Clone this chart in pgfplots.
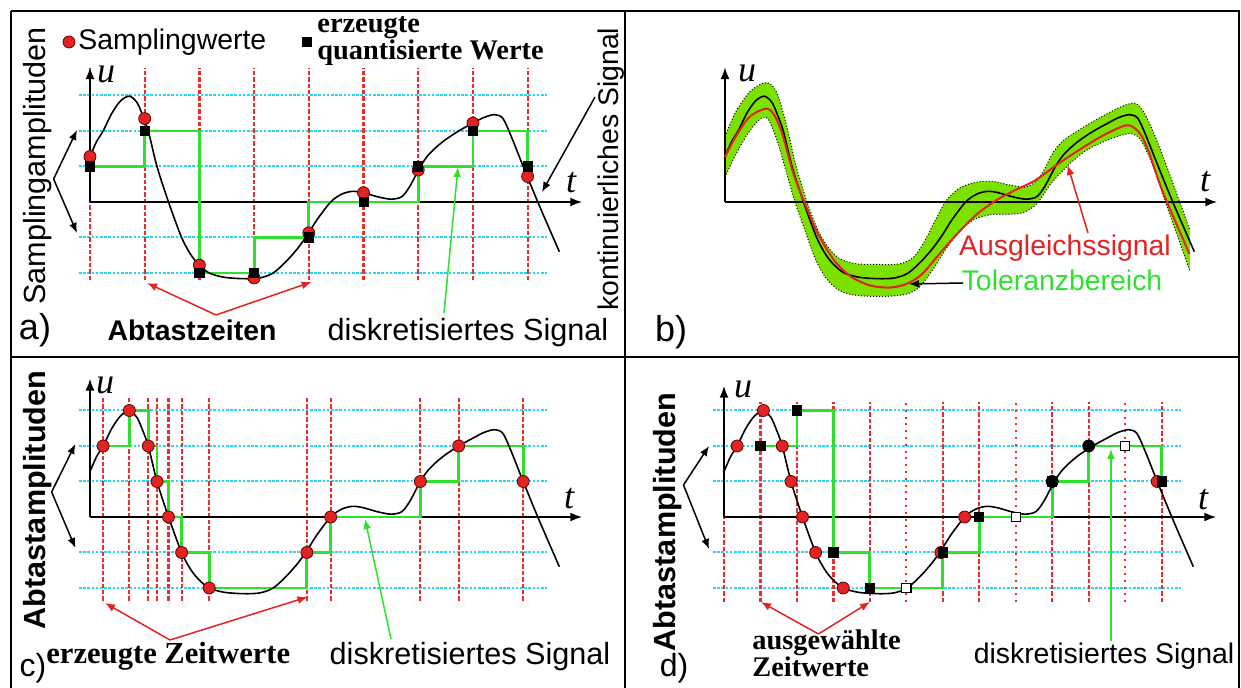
\documentclass[border=0pt]{standalone}
\usepackage{fontspec}
\setmainfont{Liberation Sans}
\newfontfamily\tnr{Liberation Serif}
\usepackage{pgfplots}
\usepackage{pgfplotstable}
\pgfplotsset{compat=1.18}
\usepgfplotslibrary{fillbetween}
\usetikzlibrary{arrows.meta}
\definecolor{cy}{RGB}{40,215,240}
\definecolor{rd}{RGB}{225,35,35}
\definecolor{rdl}{RGB}{235,45,45}
\definecolor{gr}{RGB}{45,225,45}
\definecolor{band}{RGB}{125,225,0}
\newcommand\fs{\fontsize{14.2}{15}\selectfont}
\newcommand\fl{\fontsize{15.3}{16}\selectfont}
\newcommand\fb{\fontsize{18}{19}\selectfont}
\newcommand\fu{\fontsize{18}{19}\selectfont\tnr\itshape}
\tikzset{
 ar/.style={line width=0.75pt,-{Latex[length=5pt,width=4pt]}},
 axarr/.style={line width=1pt,-{Latex[length=6pt,width=4.5pt]}},
 cyl/.style={cy,line width=1pt,dash pattern=on 1.3pt off 0.8pt},
 rdash/.style={rdl,line width=1.1pt,dash pattern=on 2.2pt off 1pt},
}
\pgfplotsset{
 panel/.style={x=27.35pt,y=17.75pt,xmin=-1.5,xmax=9.2,ymin=-3,ymax=4.2,hide axis,clip=false,anchor=south west},
 sig/.style={black,line width=0.8pt,smooth,mark=none},
 stp/.style={gr,line width=1.4pt,const plot mark left,mark=none},
 dots/.style={only marks,mark=*,mark size=3pt,mark options={fill=rd,draw=black!60!red,line width=0.4pt}},
 sqs/.style={only marks,mark=square*,mark size=2.3pt,mark options={fill=black,draw=black}},
 hsq/.style={only marks,mark=square*,mark size=2.3pt,mark options={fill=white,draw=black,line width=0.6pt}},
 bdots/.style={only marks,mark=*,mark size=3pt,mark options={fill=black,draw=black}},
}
% continuous signal
\pgfplotstableread{
t u
0 1.28
0.12 1.7
0.24 2.0
0.4 2.5
0.56 2.85
0.72 2.98
0.86 2.8
0.96 2.45
1.065 2.0
1.225 1.0
1.435 0
1.675 -1
1.85 -1.5
2.0 -1.78
2.18 -2.0
2.45 -2.12
2.8 -2.16
3.1 -2.14
3.35 -2.0
3.6 -1.65
3.8 -1.3
3.965 -0.95
4.15 -0.5
4.4 0.0
4.6 0.22
4.8 0.3
5.0 0.26
5.25 0.15
5.5 0.08
5.7 0.15
5.85 0.45
6.04 1.0
6.2 1.35
6.45 1.7
6.74 2.0
7.0 2.22
7.2 2.38
7.4 2.46
7.55 2.35
7.7 1.85
7.92 1.0
8.2 -0.05
8.58 -1.4
}\tabsig
% fitted signal (panel b)
\pgfplotstableread{
t u
0 1.27
0.2 1.85
0.45 2.4
0.75 2.63
0.9 2.45
1.05 1.9
1.25 0.8
1.45 0
1.7 -0.9
2.0 -1.65
2.3 -2.1
2.65 -2.35
3.0 -2.41
3.3 -2.32
3.59 -2.05
3.9 -1.5
4.25 -0.89
4.6 -0.35
4.96 0.05
5.3 0.33
5.67 0.61
6.18 1.17
6.76 1.74
7.1 2.02
7.33 2.16
7.45 2.12
7.6 1.9
7.75 1.4
8.0 0.3
8.49 -1.46
}\tabfit
\pgfplotstableread{
t u
0 1.85
0.2 2.55
0.45 3.1
0.7 3.35
0.85 3.3
0.98 2.95
1.15 2.0
1.3 1.0
1.5 0
1.7 -0.8
1.9 -1.3
2.1 -1.6
2.4 -1.74
2.8 -1.76
3.2 -1.74
3.45 -1.55
3.65 -1.1
3.85 -0.5
4.05 0.05
4.3 0.4
4.6 0.56
4.9 0.58
5.2 0.48
5.5 0.42
5.7 0.6
5.85 0.95
6.0 1.4
6.2 1.75
6.6 2.15
7.0 2.5
7.3 2.72
7.5 2.78
7.65 2.55
7.85 1.9
8.1 0.9
8.5 -0.8
}\tabup
\pgfplotstableread{
t u
0 0.7
0.2 1.35
0.45 2.0
0.68 2.38
0.8 2.3
0.95 1.75
1.1 0.95
1.28 0
1.45 -0.75
1.65 -1.6
1.85 -2.15
2.1 -2.5
2.4 -2.63
2.9 -2.66
3.3 -2.6
3.55 -2.4
3.8 -1.9
4.05 -1.3
4.3 -0.8
4.55 -0.5
4.85 -0.36
5.15 -0.35
5.45 -0.3
5.7 -0.05
5.95 0.5
6.25 1.0
6.6 1.45
7.0 1.75
7.3 1.9
7.45 1.92
7.6 1.75
7.8 1.1
8.05 0.0
8.5 -1.95
}\tablo
\begin{document}
\begin{tikzpicture}
% ---------------- panel a ----------------
\begin{axis}[panel,at={(3.975pt,-154.25pt)}]
\pgfplotsinvokeforeach{3,2,1,-1,-2}{\draw[cyl] (axis cs:-0.2,#1) -- (axis cs:8.35,#1);}
\pgfplotsinvokeforeach{0,1,2,3,4,5,6,7,8}{\draw[rdash] (axis cs:#1,-2.2) -- (axis cs:#1,3.77);}
\draw[axarr] (axis cs:0,0) -- (axis cs:9.0,0);
\draw[axarr] (axis cs:0,0) -- (axis cs:0,3.8);
\addplot[stp] coordinates {(0,1) (1,2) (2,-2) (3,-1) (4,0) (6,1) (7,2) (8,1)};
\addplot[sig] table {\tabsig};
\addplot[dots] coordinates {(0,1.28) (1,2.35) (2,-1.78) (3,-2.14) (4,-0.87) (5,0.26) (6,0.9) (7,2.22) (8,0.72)};
\addplot[sqs] coordinates {(0,1) (1,2) (2,-2) (3,-2) (4,-1) (5,0) (6,1) (7,2) (8,1)};
\addplot[dots] coordinates {(-0.384,4.507)};
\addplot[sqs] coordinates {(3.96,4.5)};
\end{axis}
% ---------------- panel b ----------------
\begin{axis}[panel,set layers,at={(321.475pt,-154.25pt)}]
\addplot[draw=none,smooth,name path=up] table {\tabup};
\addplot[draw=none,smooth,name path=lo] table {\tablo};
\addplot[band] fill between[of=up and lo];
\addplot[black,densely dotted,line width=0.5pt,smooth] table {\tabup};
\addplot[black,densely dotted,line width=0.5pt,smooth] table {\tablo};
\draw[axarr] (axis cs:0,0) -- (axis cs:9.0,0);
\draw[axarr] (axis cs:0,0) -- (axis cs:0,3.8);
\addplot[sig] table {\tabsig};
\addplot[rd,line width=1pt,smooth,mark=none] table {\tabfit};
\end{axis}
% ---------------- panel c ----------------
\begin{axis}[panel,at={(3.975pt,-311.75pt)}]
\pgfplotsinvokeforeach{3,2,1,-1,-2}{\draw[cyl] (axis cs:-0.2,#1) -- (axis cs:8.35,#1);}
\pgfplotsinvokeforeach{0.24,0.72,1.065,1.225,1.435,1.675,2.18,3.965,4.4,6.04,6.74,7.92}{\draw[rdash] (axis cs:#1,-2.36) -- (axis cs:#1,3.38);}
\draw[axarr] (axis cs:0,0) -- (axis cs:9.0,0);
\draw[axarr] (axis cs:0,0) -- (axis cs:0,3.9);
\addplot[stp] coordinates {(0.24,2) (0.72,3) (1.065,2) (1.225,1) (1.435,0) (1.675,-1) (2.18,-2) (3.965,-1) (4.4,0) (6.04,1) (6.74,2) (7.92,1)};
\addplot[sig] table {\tabsig};
\addplot[dots] coordinates {(0.24,2) (0.72,3) (1.065,2) (1.225,1) (1.435,0) (1.675,-1) (2.18,-2) (3.965,-1) (4.4,0) (6.04,1) (6.74,2) (7.92,1)};
\end{axis}
% ---------------- panel d ----------------
\begin{axis}[panel,at={(320.975pt,-311.75pt)}]
\pgfplotsinvokeforeach{3,2,1,-1,-2}{\draw[cyl] (axis cs:-0.2,#1) -- (axis cs:8.35,#1);}
\pgfplotsinvokeforeach{0,0.6667,1.3333,2,2.6667,4,4.6667,6,6.6667,8}{\draw[rdash] (axis cs:#1,-2.4) -- (axis cs:#1,3.24);}
\pgfplotsinvokeforeach{3.3333,5.3333,7.3333}{\draw[rdl,line width=1.1pt,dash pattern=on 1pt off 2.4pt] (axis cs:#1,-2.4) -- (axis cs:#1,3.24);}
\draw[axarr] (axis cs:0,0) -- (axis cs:9.0,0);
\draw[axarr] (axis cs:0,0) -- (axis cs:0,3.7);
\addplot[stp] coordinates {(0.6667,2) (1.3333,3) (2,-1) (2.6667,-2) (4,-1) (4.6667,0) (6,1) (6.6667,2) (8,1)};
\addplot[sig] table {\tabsig};
\addplot[dots] coordinates {(0.24,2) (0.72,3) (1.065,2) (1.225,1) (1.435,0) (1.675,-1) (2.18,-2) (3.965,-1) (4.4,0) (7.92,1)};
\addplot[sqs] coordinates {(0.6667,2) (1.3333,3) (2,-1) (2.6667,-2) (4,-1) (4.6667,0) (6,1) (8,1)};
\addplot[hsq] coordinates {(3.3333,-2) (5.3333,0) (7.3333,2)};
\addplot[bdots] coordinates {(6,1) (6.6667,2)};
\end{axis}
% ---------------- annotations (pixel coordinates) ----------------
\begin{scope}[x=0.5pt,y=-0.5pt]
\draw[line width=1.1pt] (11,11) -- (1239,11) -- (1239,688);
\draw[line width=1.1pt] (11,11) -- (11,688);
\draw[line width=1.1pt] (11,357) -- (1239,357);
\draw[line width=1.1pt] (625,11) -- (625,688);
% panel a
\node[rotate=90,font=\fl] at (38,166) {Samplingamplituden};
\node[anchor=west,font=\fs,inner sep=0] at (78,42) {Samplingwerte};
\node[anchor=west,font=\fs\tnr\bfseries,inner sep=0] at (317,28) {erzeugte};
\node[anchor=west,font=\fs\tnr\bfseries,inner sep=0] at (317,53) {quantisierte Werte};
\node[rotate=90,font=\fs] at (611,169) {kontinuierliches Signal};
\node[font=\fu] at (106,74) {u};
\node[font=\fu] at (571,183) {t};
\node[font=\fb] at (35,330) {a)};
\node[font=\fs\bfseries] at (192,330) {Abtastzeiten};
\node[font=\fl] at (468,333) {diskretisiertes Signal};
\draw[ar] (53.6,179) -- (77,130);
\draw[ar] (53.6,179) -- (77,233);
\draw[ar,rd] (216,315) -- (147,283);
\draw[ar,rd] (216,315) -- (311.5,282);
\draw[ar,gr] (444,313) -- (458,167);
\draw[ar] (595,97) -- (542,192);
% panel b
\node[font=\fu] at (747,73) {u};
\node[font=\fu] at (1205,182) {t};
\node[font=\fb] at (671,332) {b)};
\node[font=\fs,text=rd] at (1065,248) {Ausgleichssignal};
\node[font=\fs,text=gr] at (1062,280) {Toleranzbereich};
\draw[ar,rd] (1088,233) -- (1067.6,165);
\draw[ar] (963,283) -- (909,284);
% panel c
\node[rotate=90,font=\fl\bfseries] at (38,500) {Abtastamplituden};
\node[font=\fu] at (105,385) {u};
\node[font=\fu] at (569,499) {t};
\node[font=\fontsize{16}{17}\selectfont] at (33,668) {c)};
\node[anchor=base west,font=\fl\tnr\bfseries,inner sep=0] at (46,663) {erzeugte Zeitwerte};
\node[font=\fl] at (470,657) {diskretisiertes Signal};
\draw[ar] (51.6,492) -- (75.4,444);
\draw[ar] (51.6,492) -- (75.4,548);
\draw[ar,rd] (170,640) -- (105,603);
\draw[ar,rd] (170,640) -- (307.5,597);
\draw[ar,gr] (391,639) -- (365,519);
% panel d
\node[rotate=90,font=\fl\bfseries] at (668,522) {Abtastamplituden};
\node[font=\fu] at (743,389) {u};
\node[font=\fu] at (1203,500) {t};
\node[font=\fontsize{16}{17}\selectfont] at (674,668) {d)};
\node[anchor=base west,font=\fs\tnr\bfseries,inner sep=0] at (752,649) {ausgewählte};
\node[anchor=base west,font=\fs\tnr\bfseries,inner sep=0] at (752,676) {Zeitwerte};
\node[font=\fs] at (1104,656) {diskretisiertes Signal};
\draw[ar] (683.5,485) -- (709,446);
\draw[ar] (683.5,485) -- (709,549);
\draw[ar,rd] (818.4,634) -- (760.9,602);
\draw[ar,rd] (818.4,634) -- (870,602);
\draw[ar,gr] (1111,641) -- (1111,449);
\end{scope}
\pgfresetboundingbox
\path[use as bounding box] (0,0) rectangle (620.5pt,-344pt);
\end{tikzpicture}
\end{document}
